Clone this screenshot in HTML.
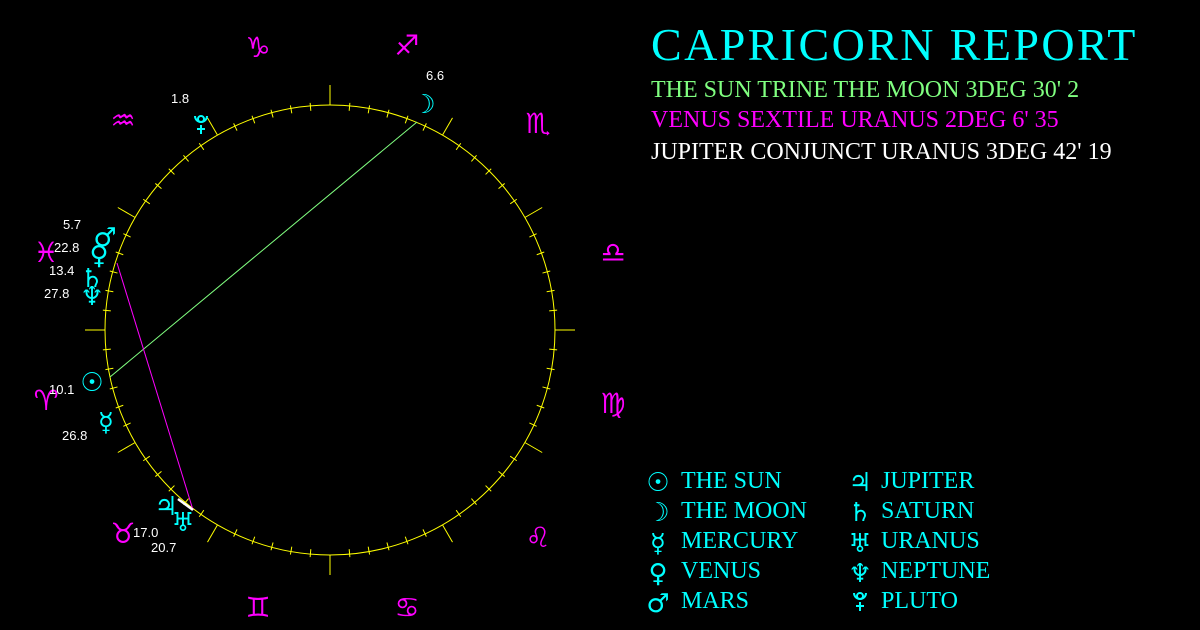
<!DOCTYPE html>
<html><head><meta charset="utf-8"><style>
html,body{margin:0;padding:0;background:#000;width:1200px;height:630px;overflow:hidden}
svg{position:absolute;left:0;top:0}
.t{position:absolute;font-family:"Liberation Serif","DejaVu Serif",serif;white-space:nowrap}
</style></head><body>
<svg id="s" width="1200" height="630" xmlns="http://www.w3.org/2000/svg">
<circle cx="330" cy="330" r="225" fill="none" stroke="#ffff00" stroke-width="1"/>
<g id="ticks" stroke="#ffff00" stroke-width="1"></g>
<line x1="417" y1="122" x2="110" y2="377" stroke="#80ff80" stroke-width="1"/>
<line x1="117" y1="263" x2="193" y2="510" stroke="#ff00ff" stroke-width="1"/>
<line x1="178" y1="499" x2="193" y2="510" stroke="#ffffff" stroke-width="2.5"/>
<g font-family="DejaVu Sans,sans-serif" font-size="28" fill="#ff00ff" text-anchor="middle">
<text x="258" y="57">♑</text><text x="407" y="55">♐</text><text x="538" y="133">♏</text>
<text x="613" y="262">♎</text><text x="613" y="413">♍</text><text x="538" y="547">♌</text>
<text x="407" y="617">♋</text><text x="258" y="617">♊</text><text x="123" y="543">♉</text>
<text x="46" y="410">♈</text><text x="46" y="262">♓</text><text x="123" y="130">♒</text>
</g>
<g font-family="DejaVu Sans,sans-serif" font-size="26" fill="#00ffff" text-anchor="middle">
<text x="424" y="113">☽</text><text x="105" y="246">♂</text>
<text x="99" y="264">♀</text><text x="92" y="287">♄</text><text x="92" y="305">♆</text>
<text x="92" y="391">☉</text><text x="106" y="431">☿</text><text x="166" y="515">♃</text>
<text x="183" y="531">♅</text>
<text x="658" y="491">☉</text><text x="658" y="521">☽</text><text x="658" y="552">☿</text>
<text x="658" y="582">♀</text><text x="658" y="612">♂</text>
<text x="860" y="491">♃</text><text x="860" y="521">♄</text><text x="860" y="552">♅</text>
<text x="860" y="582">♆</text>
</g>
<g id="pl" stroke="#00ffff" stroke-width="2" fill="none"></g>
<g font-family="Liberation Sans,sans-serif" font-size="13" fill="#ffffff">
<text x="426" y="80">6.6</text><text x="171" y="103">1.8</text><text x="63" y="229">5.7</text>
<text x="54" y="252">22.8</text><text x="49" y="275">13.4</text><text x="44" y="298">27.8</text>
<text x="49" y="394">10.1</text><text x="62" y="440">26.8</text><text x="133" y="537">17.0</text>
<text x="151" y="552">20.7</text>
</g>
</svg>
<div class="t" style="left:651px;top:18px;font-size:46px;color:#00ffff;letter-spacing:2.4px">CAPRICORN REPORT</div>
<div class="t" style="left:651px;top:77px;font-size:24px;color:#80ff80">THE SUN TRINE THE MOON 3DEG 30' 2</div>
<div class="t" style="left:651px;top:107px;font-size:24px;color:#ff00ff">VENUS SEXTILE URANUS 2DEG 6' 35</div>
<div class="t" style="left:651px;top:139px;font-size:24px;color:#ffffff">JUPITER CONJUNCT URANUS 3DEG 42' 19</div>
<div class="t" style="left:681px;top:466px;font-size:24px;color:#00ffff;line-height:30px">THE SUN<br>THE MOON<br>MERCURY<br>VENUS<br>MARS</div>
<div class="t" style="left:881px;top:466px;font-size:24px;color:#00ffff;line-height:30px">JUPITER<br>SATURN<br>URANUS<br>NEPTUNE<br>PLUTO</div>
<script>
var g=document.getElementById('ticks'),h='';
for(var d=0;d<360;d+=5){var a=d*Math.PI/180,c=Math.cos(a),s=Math.sin(a),r1,r2;
if(d%30==0){r1=225;r2=245;}else{r1=220;r2=228;}
h+='<line x1="'+(330+r1*c)+'" y1="'+(330-r1*s)+'" x2="'+(330+r2*c)+'" y2="'+(330-r2*s)+'"/>';}
g.innerHTML=h;
function pluto(x,y){return '<circle cx="'+x+'" cy="'+(y-5)+'" r="3"/><path d="M'+(x-6)+' '+(y-8)+' A6 6 0 0 0 '+(x+6)+' '+(y-8)+'"/><line x1="'+x+'" y1="'+(y+1)+'" x2="'+x+'" y2="'+(y+10)+'"/><line x1="'+(x-4)+'" y1="'+(y+5)+'" x2="'+(x+4)+'" y2="'+(y+5)+'"/>';}
document.getElementById('pl').innerHTML=pluto(201,124)+pluto(860,601);
</script>
</body></html>
